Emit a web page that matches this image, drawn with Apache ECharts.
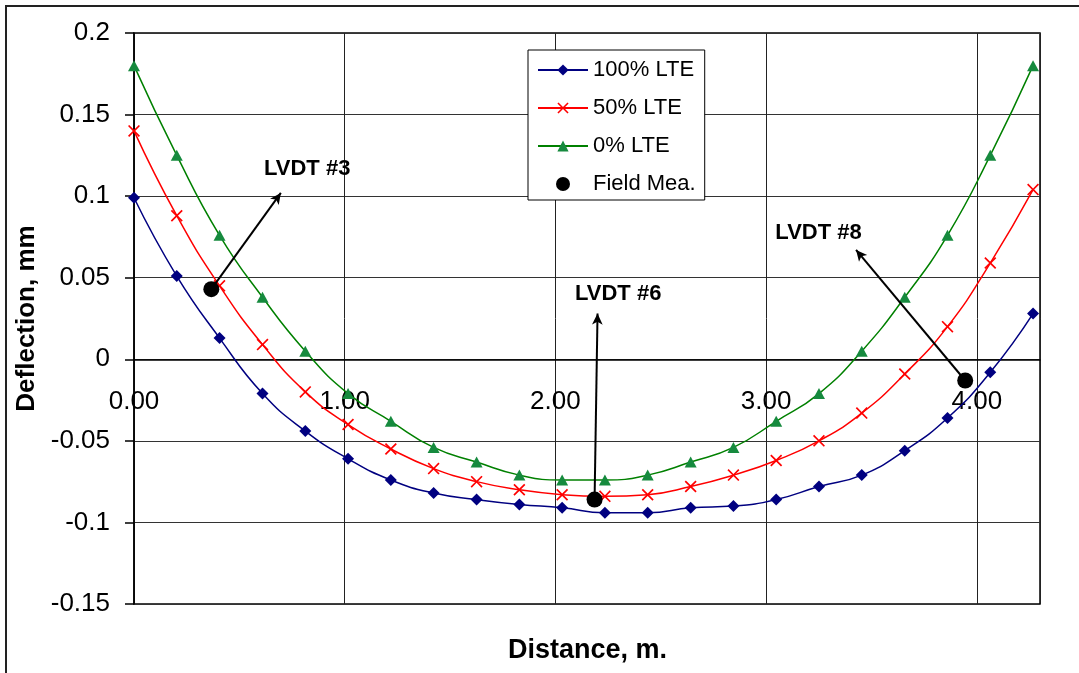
<!DOCTYPE html>
<html>
<head>
<meta charset="utf-8">
<title>Deflection profile</title>
<script src="https://cdn.jsdelivr.net/npm/echarts@6/dist/echarts.min.js"></script>
<style>
  html, body { margin: 0; padding: 0; background: #fff; }
  #chart { width: 1079px; height: 673px; }
</style>
</head>
<body>
<div id="chart"></div>
<script>
// Distance along the slab (m), sensor spacing 8 in.
const distance = [0.000, 0.203, 0.406, 0.610, 0.813, 1.016, 1.219, 1.422, 1.626, 1.829, 2.032,
                  2.235, 2.438, 2.642, 2.845, 3.048, 3.251, 3.454, 3.658, 3.861, 4.064, 4.267];

// Computed deflection (mm) for three load-transfer efficiencies
const lte100 = [0.099, 0.051, 0.013, -0.021, -0.044, -0.061, -0.074, -0.082, -0.086, -0.089, -0.091,
                -0.094, -0.094, -0.091, -0.090, -0.086, -0.078, -0.071, -0.056, -0.036, -0.008, 0.028];
const lte50  = [0.140, 0.088, 0.045, 0.009, -0.020, -0.040, -0.055, -0.067, -0.075, -0.080, -0.083,
                -0.084, -0.083, -0.078, -0.071, -0.062, -0.050, -0.033, -0.009, 0.020, 0.059, 0.104];
const lte0   = [0.180, 0.125, 0.076, 0.038, 0.005, -0.021, -0.038, -0.054, -0.063, -0.071, -0.074,
                -0.074, -0.071, -0.063, -0.054, -0.038, -0.021, 0.005, 0.038, 0.076, 0.125, 0.180];

// Field measurements from the LVDTs
const fieldX = [0.367, 2.186, 3.945];
const fieldY = [0.043, -0.086, -0.013];
const lvdtNames = ['LVDT #3', 'LVDT #6', 'LVDT #8'];
// Callout arrow tips and label anchors (data units)
const arrowTipX = [0.697, 2.200, 3.427];
const arrowTipY = [0.102, 0.028, 0.067];
const labelX = [0.822, 2.298, 3.249];
const labelY = [0.1165, 0.0403, 0.0772];

const xTickLabels = [0, 1, 2, 3, 4];

const zip = (xs, ys) => xs.map((x, i) => [x, ys[i]]);
const FONT = 'Liberation Sans, Arial, sans-serif';
const xSymbol = 'path://M0,1L1,0L5,4L9,0L10,1L6,5L10,9L9,10L5,6L1,10L0,9L4,5Z';

// Plot box in pixels; the distance axis is lifted to the zero-deflection line
const GRID = { left: 134, top: 33, right: 39, bottom: 69 };
const Y_MIN = -0.15, Y_MAX = 0.2;
const plotHeight = 673 - GRID.top - GRID.bottom;
const zeroLift = -plotHeight * (0 - Y_MIN) / (Y_MAX - Y_MIN);

const chart = echarts.init(document.getElementById('chart'), null, { renderer: 'canvas' });

chart.setOption({
  animation: false,
  backgroundColor: '#fff',
  textStyle: { fontFamily: FONT, color: '#000' },
  graphic: [
    {
      type: 'rect', z: -10, silent: true,
      shape: { x: 6, y: 6, width: 1200, height: 800 },
      style: { fill: 'none', stroke: '#222', lineWidth: 2 }
    },
    {
      type: 'text', silent: true, left: 508, top: 637,
      style: {
        text: 'Distance, m.', x: 0, y: 0,
        font: 'bold 27px ' + FONT, fill: '#000'
      }
    }
  ],
  grid: Object.assign({
    show: true, borderColor: '#000', borderWidth: 1.5, backgroundColor: '#fff'
  }, GRID),
  legend: {
    orient: 'vertical',
    left: 528, top: 50,
    data: ['100% LTE', '50% LTE', '0% LTE', 'Field Mea.'],
    backgroundColor: '#fff',
    borderColor: '#000', borderWidth: 1,
    padding: [9, 9, 5, 9],
    itemWidth: 50, itemHeight: 14, itemGap: 16,
    textStyle: { fontFamily: FONT, fontSize: 22, color: '#000' }
  },
  xAxis: {
    type: 'value', min: 0, max: 4.3, interval: 1,
    position: 'bottom', offset: zeroLift,
    axisLine: { show: true, onZero: false, lineStyle: { color: '#000', width: 1.5 } },
    axisTick: { show: false },
    axisLabel: {
      customValues: xTickLabels, margin: 30,
      fontFamily: FONT, fontSize: 26, color: '#000',
      formatter: v => v.toFixed(2)
    },
    splitLine: { show: true, lineStyle: { color: '#222', width: 1 } }
  },
  yAxis: {
    type: 'value', min: Y_MIN, max: Y_MAX, interval: 0.05,
    name: 'Deflection, mm', nameLocation: 'middle', nameGap: 84,
    nameTextStyle: { fontFamily: FONT, fontSize: 26, fontWeight: 'bold', color: '#000' },
    axisLine: { show: true, onZero: false, lineStyle: { color: '#000', width: 1.5 } },
    axisTick: { show: true, inside: false, length: 9, lineStyle: { color: '#000', width: 1.5 } },
    axisLabel: {
      margin: 24, fontFamily: FONT, fontSize: 26, color: '#000',
      formatter: v => String(Math.round(v * 100) / 100)
    },
    splitLine: { show: true, lineStyle: { color: '#333', width: 1 } }
  },
  series: [
    {
      name: '100% LTE', type: 'line', smooth: true,
      data: zip(distance, lte100),
      symbol: 'diamond', symbolSize: [12, 12],
      lineStyle: { color: '#000080', width: 1.5 },
      itemStyle: { color: '#000080' }, z: 3
    },
    {
      name: '50% LTE', type: 'line', smooth: true,
      data: zip(distance, lte50),
      symbol: xSymbol, symbolSize: [12, 12], symbolKeepAspect: true,
      lineStyle: { color: '#ff0000', width: 1.5 },
      itemStyle: { color: '#ff0000' }, z: 3
    },
    {
      name: '0% LTE', type: 'line', smooth: true,
      data: zip(distance, lte0),
      symbol: 'triangle', symbolSize: [12, 11],
      lineStyle: { color: '#008000', width: 1.5 },
      itemStyle: { color: '#168a3e' }, z: 3
    },
    {
      name: 'Field Mea.', type: 'scatter',
      data: zip(fieldX, fieldY),
      symbol: 'circle', symbolSize: 16,
      itemStyle: { color: '#000', opacity: 1 }, z: 5,
      markLine: {
        silent: true, animation: false,
        symbol: ['none', 'arrow'], symbolSize: [8, 11],
        label: { show: false },
        lineStyle: { color: '#000', width: 2, type: 'solid', opacity: 1 },
        data: fieldX.map((x, i) => [
          { coord: [x, fieldY[i]] },
          { coord: [arrowTipX[i], arrowTipY[i]] }
        ])
      }
    },
    {
      name: 'LVDT', type: 'scatter', silent: true,
      data: labelX.map((x, i) => [x, labelY[i], lvdtNames[i]]),
      symbol: 'circle', symbolSize: 1,
      itemStyle: { color: 'transparent', opacity: 1 }, z: 6,
      label: {
        show: true, position: 'inside',
        formatter: p => p.data[2],
        fontFamily: FONT, fontSize: 22, fontWeight: 'bold', color: '#000'
      }
    }
  ]
});
</script>
</body>
</html>
